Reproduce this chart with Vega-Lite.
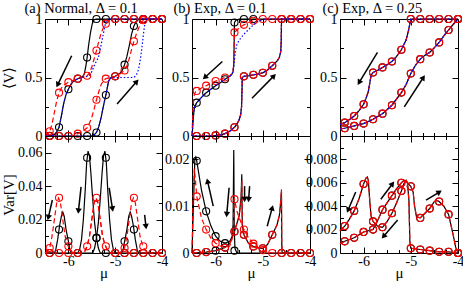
{
"$schema":"https://vega.github.io/schema/vega-lite/v6.json",
"padding":0,
"background":"white",
"config":{
 "axis":{"domain":false,"grid":false,"labelFont":"Liberation Serif","labelFontSize":14,"labelColor":"black","titleFont":"Liberation Serif","titleFontSize":15,"titleFontWeight":"normal","titleColor":"black","tickColor":"black","tickWidth":1,"labelFlush":false,"labelOverlap":false,"labelBound":false},
 "view":{"stroke":"black","strokeWidth":1}
},
"datasets":{
"a1":[
{"t":"l","s":"k","b":"d","m":-6.5,"v":0},{"t":"l","s":"k","b":"d","m":-6.35,"v":0.003},{"t":"l","s":"k","b":"d","m":-6.3,"v":0.012},{"t":"l","s":"k","b":"d","m":-6.25,"v":0.035},{"t":"l","s":"k","b":"d","m":-6.2,"v":0.075},{"t":"l","s":"k","b":"d","m":-6.15,"v":0.17},{"t":"l","s":"k","b":"d","m":-6.1,"v":0.28},{"t":"l","s":"k","b":"d","m":-6.05,"v":0.355},{"t":"l","s":"k","b":"d","m":-6.0,"v":0.4},{"t":"l","s":"k","b":"d","m":-5.95,"v":0.44},{"t":"l","s":"k","b":"d","m":-5.9,"v":0.465},{"t":"l","s":"k","b":"d","m":-5.8,"v":0.49},{"t":"l","s":"k","b":"d","m":-5.7,"v":0.505},{"t":"l","s":"k","b":"d","m":-5.66,"v":0.53},{"t":"l","s":"k","b":"d","m":-5.63,"v":0.59},{"t":"l","s":"k","b":"d","m":-5.6,"v":0.67},{"t":"l","s":"k","b":"d","m":-5.57,"v":0.77},{"t":"l","s":"k","b":"d","m":-5.53,"v":0.88},{"t":"l","s":"k","b":"d","m":-5.49,"v":0.96},{"t":"l","s":"k","b":"d","m":-5.45,"v":0.995},{"t":"l","s":"k","b":"d","m":-5.4,"v":1},{"t":"l","s":"k","b":"d","m":-4,"v":1},
{"t":"l","s":"k","b":"u","m":-6.5,"v":0},{"t":"l","s":"k","b":"u","m":-5.5,"v":0},{"t":"l","s":"k","b":"u","m":-5.45,"v":0.01},{"t":"l","s":"k","b":"u","m":-5.4,"v":0.03},{"t":"l","s":"k","b":"u","m":-5.35,"v":0.08},{"t":"l","s":"k","b":"u","m":-5.3,"v":0.16},{"t":"l","s":"k","b":"u","m":-5.25,"v":0.26},{"t":"l","s":"k","b":"u","m":-5.2,"v":0.35},{"t":"l","s":"k","b":"u","m":-5.17,"v":0.41},{"t":"l","s":"k","b":"u","m":-5.14,"v":0.47},{"t":"l","s":"k","b":"u","m":-5.1,"v":0.495},{"t":"l","s":"k","b":"u","m":-5.0,"v":0.51},{"t":"l","s":"k","b":"u","m":-4.9,"v":0.535},{"t":"l","s":"k","b":"u","m":-4.85,"v":0.56},{"t":"l","s":"k","b":"u","m":-4.8,"v":0.61},{"t":"l","s":"k","b":"u","m":-4.75,"v":0.68},{"t":"l","s":"k","b":"u","m":-4.7,"v":0.77},{"t":"l","s":"k","b":"u","m":-4.65,"v":0.87},{"t":"l","s":"k","b":"u","m":-4.6,"v":0.94},{"t":"l","s":"k","b":"u","m":-4.55,"v":0.98},{"t":"l","s":"k","b":"u","m":-4.5,"v":0.995},{"t":"l","s":"k","b":"u","m":-4.45,"v":1},{"t":"l","s":"k","b":"u","m":-4,"v":1},
{"t":"l","s":"r","b":"d","m":-6.5,"v":0},{"t":"l","s":"r","b":"d","m":-6.45,"v":0.01},{"t":"l","s":"r","b":"d","m":-6.4,"v":0.04},{"t":"l","s":"r","b":"d","m":-6.35,"v":0.1},{"t":"l","s":"r","b":"d","m":-6.3,"v":0.2},{"t":"l","s":"r","b":"d","m":-6.25,"v":0.3},{"t":"l","s":"r","b":"d","m":-6.2,"v":0.37},{"t":"l","s":"r","b":"d","m":-6.15,"v":0.41},{"t":"l","s":"r","b":"d","m":-6.1,"v":0.435},{"t":"l","s":"r","b":"d","m":-6.0,"v":0.46},{"t":"l","s":"r","b":"d","m":-5.9,"v":0.475},{"t":"l","s":"r","b":"d","m":-5.8,"v":0.49},{"t":"l","s":"r","b":"d","m":-5.7,"v":0.5},{"t":"l","s":"r","b":"d","m":-5.6,"v":0.515},{"t":"l","s":"r","b":"d","m":-5.55,"v":0.54},{"t":"l","s":"r","b":"d","m":-5.5,"v":0.59},{"t":"l","s":"r","b":"d","m":-5.45,"v":0.66},{"t":"l","s":"r","b":"d","m":-5.4,"v":0.73},{"t":"l","s":"r","b":"d","m":-5.35,"v":0.81},{"t":"l","s":"r","b":"d","m":-5.3,"v":0.88},{"t":"l","s":"r","b":"d","m":-5.25,"v":0.93},{"t":"l","s":"r","b":"d","m":-5.2,"v":0.96},{"t":"l","s":"r","b":"d","m":-5.1,"v":0.99},{"t":"l","s":"r","b":"d","m":-5.0,"v":1},{"t":"l","s":"r","b":"d","m":-4,"v":1},
{"t":"l","s":"r","b":"u","m":-6.5,"v":0},{"t":"l","s":"r","b":"u","m":-5.9,"v":0},{"t":"l","s":"r","b":"u","m":-5.8,"v":0.02},{"t":"l","s":"r","b":"u","m":-5.7,"v":0.04},{"t":"l","s":"r","b":"u","m":-5.6,"v":0.07},{"t":"l","s":"r","b":"u","m":-5.55,"v":0.11},{"t":"l","s":"r","b":"u","m":-5.5,"v":0.16},{"t":"l","s":"r","b":"u","m":-5.45,"v":0.23},{"t":"l","s":"r","b":"u","m":-5.4,"v":0.31},{"t":"l","s":"r","b":"u","m":-5.35,"v":0.38},{"t":"l","s":"r","b":"u","m":-5.3,"v":0.44},{"t":"l","s":"r","b":"u","m":-5.25,"v":0.475},{"t":"l","s":"r","b":"u","m":-5.2,"v":0.49},{"t":"l","s":"r","b":"u","m":-5.1,"v":0.5},{"t":"l","s":"r","b":"u","m":-5.0,"v":0.51},{"t":"l","s":"r","b":"u","m":-4.9,"v":0.53},{"t":"l","s":"r","b":"u","m":-4.8,"v":0.56},{"t":"l","s":"r","b":"u","m":-4.75,"v":0.6},{"t":"l","s":"r","b":"u","m":-4.7,"v":0.66},{"t":"l","s":"r","b":"u","m":-4.65,"v":0.74},{"t":"l","s":"r","b":"u","m":-4.6,"v":0.81},{"t":"l","s":"r","b":"u","m":-4.55,"v":0.87},{"t":"l","s":"r","b":"u","m":-4.5,"v":0.92},{"t":"l","s":"r","b":"u","m":-4.45,"v":0.97},{"t":"l","s":"r","b":"u","m":-4.4,"v":0.99},{"t":"l","s":"r","b":"u","m":-4.3,"v":1},{"t":"l","s":"r","b":"u","m":-4,"v":1},
{"t":"l","s":"b","b":"d","m":-6.5,"v":0},{"t":"l","s":"b","b":"d","m":-6.35,"v":0.003},{"t":"l","s":"b","b":"d","m":-6.3,"v":0.012},{"t":"l","s":"b","b":"d","m":-6.25,"v":0.035},{"t":"l","s":"b","b":"d","m":-6.2,"v":0.075},{"t":"l","s":"b","b":"d","m":-6.15,"v":0.17},{"t":"l","s":"b","b":"d","m":-6.1,"v":0.28},{"t":"l","s":"b","b":"d","m":-6.05,"v":0.355},{"t":"l","s":"b","b":"d","m":-6.0,"v":0.4},{"t":"l","s":"b","b":"d","m":-5.95,"v":0.44},{"t":"l","s":"b","b":"d","m":-5.9,"v":0.465},{"t":"l","s":"b","b":"d","m":-5.8,"v":0.49},{"t":"l","s":"b","b":"d","m":-5.7,"v":0.5},{"t":"l","s":"b","b":"d","m":-5.6,"v":0.51},{"t":"l","s":"b","b":"d","m":-5.55,"v":0.52},{"t":"l","s":"b","b":"d","m":-5.5,"v":0.55},{"t":"l","s":"b","b":"d","m":-5.45,"v":0.6},{"t":"l","s":"b","b":"d","m":-5.4,"v":0.64},{"t":"l","s":"b","b":"d","m":-5.36,"v":0.67},{"t":"l","s":"b","b":"d","m":-5.32,"v":0.74},{"t":"l","s":"b","b":"d","m":-5.29,"v":0.8},{"t":"l","s":"b","b":"d","m":-5.25,"v":0.88},{"t":"l","s":"b","b":"d","m":-5.21,"v":0.96},{"t":"l","s":"b","b":"d","m":-5.18,"v":0.995},{"t":"l","s":"b","b":"d","m":-5.15,"v":1},{"t":"l","s":"b","b":"d","m":-4,"v":1},
{"t":"l","s":"b","b":"u","m":-6.5,"v":0},{"t":"l","s":"b","b":"u","m":-5.5,"v":0},{"t":"l","s":"b","b":"u","m":-5.45,"v":0.01},{"t":"l","s":"b","b":"u","m":-5.4,"v":0.03},{"t":"l","s":"b","b":"u","m":-5.35,"v":0.08},{"t":"l","s":"b","b":"u","m":-5.3,"v":0.16},{"t":"l","s":"b","b":"u","m":-5.25,"v":0.26},{"t":"l","s":"b","b":"u","m":-5.2,"v":0.35},{"t":"l","s":"b","b":"u","m":-5.17,"v":0.41},{"t":"l","s":"b","b":"u","m":-5.14,"v":0.47},{"t":"l","s":"b","b":"u","m":-5.1,"v":0.495},{"t":"l","s":"b","b":"u","m":-5.0,"v":0.5},{"t":"l","s":"b","b":"u","m":-4.8,"v":0.5},{"t":"l","s":"b","b":"u","m":-4.6,"v":0.5},{"t":"l","s":"b","b":"u","m":-4.55,"v":0.52},{"t":"l","s":"b","b":"u","m":-4.5,"v":0.57},{"t":"l","s":"b","b":"u","m":-4.46,"v":0.66},{"t":"l","s":"b","b":"u","m":-4.43,"v":0.75},{"t":"l","s":"b","b":"u","m":-4.4,"v":0.86},{"t":"l","s":"b","b":"u","m":-4.37,"v":0.95},{"t":"l","s":"b","b":"u","m":-4.34,"v":0.995},{"t":"l","s":"b","b":"u","m":-4.3,"v":1},{"t":"l","s":"b","b":"u","m":-4,"v":1},
{"t":"c","s":"k","b":"d","m":-6.4,"v":0.002},{"t":"c","s":"k","b":"d","m":-6.2,"v":0.075},{"t":"c","s":"k","b":"d","m":-6.0,"v":0.4},{"t":"c","s":"k","b":"d","m":-5.8,"v":0.49},{"t":"c","s":"k","b":"d","m":-5.6,"v":0.67},{"t":"c","s":"k","b":"d","m":-5.4,"v":1},{"t":"c","s":"k","b":"d","m":-5.2,"v":1},{"t":"c","s":"k","b":"d","m":-5.0,"v":1},{"t":"c","s":"k","b":"d","m":-4.8,"v":1},{"t":"c","s":"k","b":"d","m":-4.6,"v":1},{"t":"c","s":"k","b":"d","m":-4.4,"v":1},{"t":"c","s":"k","b":"d","m":-4.2,"v":1},{"t":"c","s":"k","b":"d","m":-4.0,"v":1},
{"t":"c","s":"k","b":"u","m":-6.4,"v":0},{"t":"c","s":"k","b":"u","m":-6.2,"v":0},{"t":"c","s":"k","b":"u","m":-6.0,"v":0},{"t":"c","s":"k","b":"u","m":-5.8,"v":0},{"t":"c","s":"k","b":"u","m":-5.6,"v":0},{"t":"c","s":"k","b":"u","m":-5.4,"v":0.03},{"t":"c","s":"k","b":"u","m":-5.2,"v":0.35},{"t":"c","s":"k","b":"u","m":-5.0,"v":0.51},{"t":"c","s":"k","b":"u","m":-4.8,"v":0.61},{"t":"c","s":"k","b":"u","m":-4.6,"v":0.94},{"t":"c","s":"k","b":"u","m":-4.4,"v":1},{"t":"c","s":"k","b":"u","m":-4.2,"v":1},{"t":"c","s":"k","b":"u","m":-4.0,"v":1},
{"t":"c","s":"r","b":"d","m":-6.4,"v":0.04},{"t":"c","s":"r","b":"d","m":-6.2,"v":0.37},{"t":"c","s":"r","b":"d","m":-6.0,"v":0.46},{"t":"c","s":"r","b":"d","m":-5.8,"v":0.49},{"t":"c","s":"r","b":"d","m":-5.6,"v":0.515},{"t":"c","s":"r","b":"d","m":-5.4,"v":0.73},{"t":"c","s":"r","b":"d","m":-5.2,"v":0.96},{"t":"c","s":"r","b":"d","m":-5.0,"v":1},{"t":"c","s":"r","b":"d","m":-4.8,"v":1},{"t":"c","s":"r","b":"d","m":-4.6,"v":1},{"t":"c","s":"r","b":"d","m":-4.4,"v":1},{"t":"c","s":"r","b":"d","m":-4.2,"v":1},{"t":"c","s":"r","b":"d","m":-4.0,"v":1},
{"t":"c","s":"r","b":"u","m":-6.4,"v":0},{"t":"c","s":"r","b":"u","m":-6.2,"v":0},{"t":"c","s":"r","b":"u","m":-6.0,"v":0},{"t":"c","s":"r","b":"u","m":-5.8,"v":0.02},{"t":"c","s":"r","b":"u","m":-5.6,"v":0.07},{"t":"c","s":"r","b":"u","m":-5.4,"v":0.31},{"t":"c","s":"r","b":"u","m":-5.2,"v":0.49},{"t":"c","s":"r","b":"u","m":-5.0,"v":0.51},{"t":"c","s":"r","b":"u","m":-4.8,"v":0.56},{"t":"c","s":"r","b":"u","m":-4.6,"v":0.81},{"t":"c","s":"r","b":"u","m":-4.4,"v":0.99},{"t":"c","s":"r","b":"u","m":-4.2,"v":1},{"t":"c","s":"r","b":"u","m":-4.0,"v":1},
{"t":"a","m":-5.93,"v":0.686,"m2":-6.23,"v2":0.437,"dir":206},{"t":"a","m":-4.96,"v":0.274,"m2":-4.54,"v2":0.466,"dir":42}
],
"a2":[
{"t":"l","s":"k","b":"d","m":-6.5,"v":0},{"t":"l","s":"k","b":"d","m":-6.3,"v":0},{"t":"l","s":"k","b":"d","m":-6.27,"v":0.002},{"t":"l","s":"k","b":"d","m":-6.23,"v":0.008},{"t":"l","s":"k","b":"d","m":-6.19,"v":0.016},{"t":"l","s":"k","b":"d","m":-6.15,"v":0.022},{"t":"l","s":"k","b":"d","m":-6.12,"v":0.0245},{"t":"l","s":"k","b":"d","m":-6.09,"v":0.022},{"t":"l","s":"k","b":"d","m":-6.05,"v":0.014},{"t":"l","s":"k","b":"d","m":-6.0,"v":0.007},{"t":"l","s":"k","b":"d","m":-5.97,"v":0.002},{"t":"l","s":"k","b":"d","m":-5.94,"v":0},{"t":"l","s":"k","b":"d","m":-5.8,"v":0},{"t":"l","s":"k","b":"d","m":-5.76,"v":0.002},{"t":"l","s":"k","b":"d","m":-5.72,"v":0.008},{"t":"l","s":"k","b":"d","m":-5.68,"v":0.02},{"t":"l","s":"k","b":"d","m":-5.64,"v":0.038},{"t":"l","s":"k","b":"d","m":-5.61,"v":0.054},{"t":"l","s":"k","b":"d","m":-5.58,"v":0.061},{"t":"l","s":"k","b":"d","m":-5.55,"v":0.058},{"t":"l","s":"k","b":"d","m":-5.52,"v":0.048},{"t":"l","s":"k","b":"d","m":-5.48,"v":0.032},{"t":"l","s":"k","b":"d","m":-5.44,"v":0.018},{"t":"l","s":"k","b":"d","m":-5.4,"v":0.009},{"t":"l","s":"k","b":"d","m":-5.36,"v":0.003},{"t":"l","s":"k","b":"d","m":-5.32,"v":0},{"t":"l","s":"k","b":"d","m":-4,"v":0},
{"t":"l","s":"k","b":"u","m":-6.5,"v":0},{"t":"l","s":"k","b":"u","m":-5.48,"v":0},{"t":"l","s":"k","b":"u","m":-5.44,"v":0.003},{"t":"l","s":"k","b":"u","m":-5.4,"v":0.009},{"t":"l","s":"k","b":"u","m":-5.36,"v":0.018},{"t":"l","s":"k","b":"u","m":-5.32,"v":0.032},{"t":"l","s":"k","b":"u","m":-5.28,"v":0.048},{"t":"l","s":"k","b":"u","m":-5.25,"v":0.058},{"t":"l","s":"k","b":"u","m":-5.22,"v":0.061},{"t":"l","s":"k","b":"u","m":-5.19,"v":0.054},{"t":"l","s":"k","b":"u","m":-5.16,"v":0.038},{"t":"l","s":"k","b":"u","m":-5.12,"v":0.02},{"t":"l","s":"k","b":"u","m":-5.08,"v":0.008},{"t":"l","s":"k","b":"u","m":-5.04,"v":0.002},{"t":"l","s":"k","b":"u","m":-5.0,"v":0},{"t":"l","s":"k","b":"u","m":-4.86,"v":0},{"t":"l","s":"k","b":"u","m":-4.83,"v":0.002},{"t":"l","s":"k","b":"u","m":-4.8,"v":0.007},{"t":"l","s":"k","b":"u","m":-4.75,"v":0.014},{"t":"l","s":"k","b":"u","m":-4.71,"v":0.022},{"t":"l","s":"k","b":"u","m":-4.68,"v":0.0245},{"t":"l","s":"k","b":"u","m":-4.65,"v":0.022},{"t":"l","s":"k","b":"u","m":-4.61,"v":0.016},{"t":"l","s":"k","b":"u","m":-4.57,"v":0.008},{"t":"l","s":"k","b":"u","m":-4.53,"v":0.002},{"t":"l","s":"k","b":"u","m":-4.5,"v":0},{"t":"l","s":"k","b":"u","m":-4,"v":0},
{"t":"l","s":"r","b":"d","m":-6.5,"v":0},{"t":"l","s":"r","b":"d","m":-6.45,"v":0.001},{"t":"l","s":"r","b":"d","m":-6.4,"v":0.003},{"t":"l","s":"r","b":"d","m":-6.35,"v":0.01},{"t":"l","s":"r","b":"d","m":-6.3,"v":0.02},{"t":"l","s":"r","b":"d","m":-6.25,"v":0.03},{"t":"l","s":"r","b":"d","m":-6.21,"v":0.033},{"t":"l","s":"r","b":"d","m":-6.17,"v":0.03},{"t":"l","s":"r","b":"d","m":-6.12,"v":0.02},{"t":"l","s":"r","b":"d","m":-6.07,"v":0.01},{"t":"l","s":"r","b":"d","m":-6.02,"v":0.005},{"t":"l","s":"r","b":"d","m":-5.97,"v":0.002},{"t":"l","s":"r","b":"d","m":-5.9,"v":0},{"t":"l","s":"r","b":"d","m":-5.7,"v":0},{"t":"l","s":"r","b":"d","m":-5.65,"v":0.001},{"t":"l","s":"r","b":"d","m":-5.6,"v":0.004},{"t":"l","s":"r","b":"d","m":-5.55,"v":0.01},{"t":"l","s":"r","b":"d","m":-5.5,"v":0.02},{"t":"l","s":"r","b":"d","m":-5.45,"v":0.03},{"t":"l","s":"r","b":"d","m":-5.41,"v":0.033},{"t":"l","s":"r","b":"d","m":-5.37,"v":0.03},{"t":"l","s":"r","b":"d","m":-5.32,"v":0.02},{"t":"l","s":"r","b":"d","m":-5.27,"v":0.01},{"t":"l","s":"r","b":"d","m":-5.22,"v":0.005},{"t":"l","s":"r","b":"d","m":-5.17,"v":0.002},{"t":"l","s":"r","b":"d","m":-5.1,"v":0},{"t":"l","s":"r","b":"d","m":-4,"v":0},
{"t":"l","s":"r","b":"u","m":-6.5,"v":0},{"t":"l","s":"r","b":"u","m":-5.7,"v":0},{"t":"l","s":"r","b":"u","m":-5.65,"v":0.001},{"t":"l","s":"r","b":"u","m":-5.6,"v":0.004},{"t":"l","s":"r","b":"u","m":-5.55,"v":0.01},{"t":"l","s":"r","b":"u","m":-5.5,"v":0.02},{"t":"l","s":"r","b":"u","m":-5.45,"v":0.03},{"t":"l","s":"r","b":"u","m":-5.41,"v":0.033},{"t":"l","s":"r","b":"u","m":-5.37,"v":0.03},{"t":"l","s":"r","b":"u","m":-5.32,"v":0.02},{"t":"l","s":"r","b":"u","m":-5.27,"v":0.01},{"t":"l","s":"r","b":"u","m":-5.22,"v":0.005},{"t":"l","s":"r","b":"u","m":-5.17,"v":0.002},{"t":"l","s":"r","b":"u","m":-5.1,"v":0},{"t":"l","s":"r","b":"u","m":-4.9,"v":0},{"t":"l","s":"r","b":"u","m":-4.85,"v":0.001},{"t":"l","s":"r","b":"u","m":-4.8,"v":0.003},{"t":"l","s":"r","b":"u","m":-4.75,"v":0.01},{"t":"l","s":"r","b":"u","m":-4.7,"v":0.02},{"t":"l","s":"r","b":"u","m":-4.65,"v":0.03},{"t":"l","s":"r","b":"u","m":-4.61,"v":0.033},{"t":"l","s":"r","b":"u","m":-4.57,"v":0.03},{"t":"l","s":"r","b":"u","m":-4.52,"v":0.02},{"t":"l","s":"r","b":"u","m":-4.47,"v":0.01},{"t":"l","s":"r","b":"u","m":-4.42,"v":0.005},{"t":"l","s":"r","b":"u","m":-4.37,"v":0.002},{"t":"l","s":"r","b":"u","m":-4.3,"v":0},{"t":"l","s":"r","b":"u","m":-4,"v":0},
{"t":"c","s":"k","b":"d","m":-6.4,"v":0},{"t":"c","s":"k","b":"d","m":-6.2,"v":0.014},{"t":"c","s":"k","b":"d","m":-6.0,"v":0.007},{"t":"c","s":"k","b":"d","m":-5.8,"v":0},{"t":"c","s":"k","b":"d","m":-5.6,"v":0.057},{"t":"c","s":"k","b":"d","m":-5.4,"v":0.009},{"t":"c","s":"k","b":"d","m":-5.2,"v":0},{"t":"c","s":"k","b":"d","m":-5.0,"v":0},{"t":"c","s":"k","b":"d","m":-4.8,"v":0},{"t":"c","s":"k","b":"d","m":-4.6,"v":0},{"t":"c","s":"k","b":"d","m":-4.4,"v":0},{"t":"c","s":"k","b":"d","m":-4.2,"v":0},{"t":"c","s":"k","b":"d","m":-4.0,"v":0},
{"t":"c","s":"k","b":"u","m":-5.4,"v":0.009},{"t":"c","s":"k","b":"u","m":-5.2,"v":0.057},{"t":"c","s":"k","b":"u","m":-4.8,"v":0.007},{"t":"c","s":"k","b":"u","m":-4.6,"v":0.014},
{"t":"c","s":"r","b":"d","m":-6.4,"v":0.003},{"t":"c","s":"r","b":"d","m":-6.2,"v":0.033},{"t":"c","s":"r","b":"d","m":-6.0,"v":0.004},{"t":"c","s":"r","b":"d","m":-5.8,"v":0},{"t":"c","s":"r","b":"d","m":-5.6,"v":0.004},{"t":"c","s":"r","b":"d","m":-5.4,"v":0.033},{"t":"c","s":"r","b":"d","m":-5.2,"v":0.004},{"t":"c","s":"r","b":"d","m":-5.0,"v":0},{"t":"c","s":"r","b":"d","m":-4.8,"v":0},{"t":"c","s":"r","b":"d","m":-4.6,"v":0},{"t":"c","s":"r","b":"d","m":-4.4,"v":0},{"t":"c","s":"r","b":"d","m":-4.2,"v":0},{"t":"c","s":"r","b":"d","m":-4.0,"v":0},
{"t":"c","s":"r","b":"u","m":-6.4,"v":0},{"t":"c","s":"r","b":"u","m":-6.2,"v":0},{"t":"c","s":"r","b":"u","m":-6.0,"v":0},{"t":"c","s":"r","b":"u","m":-4.8,"v":0.003},{"t":"c","s":"r","b":"u","m":-4.6,"v":0.033},{"t":"c","s":"r","b":"u","m":-4.4,"v":0.004},
{"t":"a","m":-6.343,"v":0.0317,"m2":-6.429,"v2":0.0212,"dir":193},{"t":"a","m":-5.729,"v":0.0396,"m2":-5.786,"v2":0.0251,"dir":186},{"t":"a","m":-5.129,"v":0.039,"m2":-5.057,"v2":0.0263,"dir":171},{"t":"a","m":-4.371,"v":0.0228,"m2":-4.343,"v2":0.0158,"dir":174}
],
"b1":[
{"t":"l","s":"k","b":"d","m":-6.5,"v":0},{"t":"l","s":"k","b":"d","m":-6.49,"v":0.05},{"t":"l","s":"k","b":"d","m":-6.47,"v":0.17},{"t":"l","s":"k","b":"d","m":-6.45,"v":0.24},{"t":"l","s":"k","b":"d","m":-6.42,"v":0.27},{"t":"l","s":"k","b":"d","m":-6.4,"v":0.285},{"t":"l","s":"k","b":"d","m":-6.3,"v":0.33},{"t":"l","s":"k","b":"d","m":-6.2,"v":0.37},{"t":"l","s":"k","b":"d","m":-6.1,"v":0.4},{"t":"l","s":"k","b":"d","m":-6.0,"v":0.43},{"t":"l","s":"k","b":"d","m":-5.9,"v":0.455},{"t":"l","s":"k","b":"d","m":-5.8,"v":0.485},{"t":"l","s":"k","b":"d","m":-5.7,"v":0.51},{"t":"l","s":"k","b":"d","m":-5.66,"v":0.525},{"t":"l","s":"k","b":"d","m":-5.63,"v":0.55},{"t":"l","s":"k","b":"d","m":-5.615,"v":0.6},{"t":"l","s":"k","b":"d","m":-5.605,"v":0.85},{"t":"l","s":"k","b":"d","m":-5.6,"v":0.97},{"t":"l","s":"k","b":"d","m":-5.57,"v":0.99},{"t":"l","s":"k","b":"d","m":-5.5,"v":1},{"t":"l","s":"k","b":"d","m":-4,"v":1},
{"t":"l","s":"r","b":"d","m":-6.5,"v":0},{"t":"l","s":"r","b":"d","m":-6.49,"v":0.12},{"t":"l","s":"r","b":"d","m":-6.47,"v":0.3},{"t":"l","s":"r","b":"d","m":-6.45,"v":0.36},{"t":"l","s":"r","b":"d","m":-6.42,"v":0.38},{"t":"l","s":"r","b":"d","m":-6.4,"v":0.385},{"t":"l","s":"r","b":"d","m":-6.3,"v":0.41},{"t":"l","s":"r","b":"d","m":-6.2,"v":0.43},{"t":"l","s":"r","b":"d","m":-6.1,"v":0.45},{"t":"l","s":"r","b":"d","m":-6.0,"v":0.47},{"t":"l","s":"r","b":"d","m":-5.9,"v":0.485},{"t":"l","s":"r","b":"d","m":-5.8,"v":0.5},{"t":"l","s":"r","b":"d","m":-5.7,"v":0.515},{"t":"l","s":"r","b":"d","m":-5.66,"v":0.53},{"t":"l","s":"r","b":"d","m":-5.63,"v":0.56},{"t":"l","s":"r","b":"d","m":-5.615,"v":0.62},{"t":"l","s":"r","b":"d","m":-5.605,"v":0.84},{"t":"l","s":"r","b":"d","m":-5.6,"v":0.885},{"t":"l","s":"r","b":"d","m":-5.5,"v":0.925},{"t":"l","s":"r","b":"d","m":-5.4,"v":0.95},{"t":"l","s":"r","b":"d","m":-5.3,"v":0.97},{"t":"l","s":"r","b":"d","m":-5.2,"v":0.985},{"t":"l","s":"r","b":"d","m":-5.1,"v":0.995},{"t":"l","s":"r","b":"d","m":-5.0,"v":1},{"t":"l","s":"r","b":"d","m":-4,"v":1},
{"t":"l","s":"b","b":"d","m":-6.5,"v":0},{"t":"l","s":"b","b":"d","m":-6.49,"v":0.05},{"t":"l","s":"b","b":"d","m":-6.47,"v":0.17},{"t":"l","s":"b","b":"d","m":-6.45,"v":0.24},{"t":"l","s":"b","b":"d","m":-6.42,"v":0.27},{"t":"l","s":"b","b":"d","m":-6.4,"v":0.285},{"t":"l","s":"b","b":"d","m":-6.3,"v":0.33},{"t":"l","s":"b","b":"d","m":-6.2,"v":0.37},{"t":"l","s":"b","b":"d","m":-6.1,"v":0.4},{"t":"l","s":"b","b":"d","m":-6.0,"v":0.43},{"t":"l","s":"b","b":"d","m":-5.9,"v":0.455},{"t":"l","s":"b","b":"d","m":-5.8,"v":0.485},{"t":"l","s":"b","b":"d","m":-5.7,"v":0.51},{"t":"l","s":"b","b":"d","m":-5.66,"v":0.525},{"t":"l","s":"b","b":"d","m":-5.63,"v":0.55},{"t":"l","s":"b","b":"d","m":-5.61,"v":0.62},{"t":"l","s":"b","b":"d","m":-5.58,"v":0.72},{"t":"l","s":"b","b":"d","m":-5.55,"v":0.78},{"t":"l","s":"b","b":"d","m":-5.5,"v":0.82},{"t":"l","s":"b","b":"d","m":-5.4,"v":0.87},{"t":"l","s":"b","b":"d","m":-5.3,"v":0.91},{"t":"l","s":"b","b":"d","m":-5.2,"v":0.95},{"t":"l","s":"b","b":"d","m":-5.1,"v":0.98},{"t":"l","s":"b","b":"d","m":-5.0,"v":0.995},{"t":"l","s":"b","b":"d","m":-4.95,"v":1},{"t":"l","s":"b","b":"d","m":-4,"v":1},
{"t":"l","s":"k","b":"u","m":-6.5,"v":0},{"t":"l","s":"k","b":"u","m":-6.1,"v":0.002},{"t":"l","s":"k","b":"u","m":-6.0,"v":0.005},{"t":"l","s":"k","b":"u","m":-5.9,"v":0.01},{"t":"l","s":"k","b":"u","m":-5.8,"v":0.02},{"t":"l","s":"k","b":"u","m":-5.7,"v":0.04},{"t":"l","s":"k","b":"u","m":-5.6,"v":0.075},{"t":"l","s":"k","b":"u","m":-5.55,"v":0.1},{"t":"l","s":"k","b":"u","m":-5.5,"v":0.14},{"t":"l","s":"k","b":"u","m":-5.47,"v":0.18},{"t":"l","s":"k","b":"u","m":-5.45,"v":0.25},{"t":"l","s":"k","b":"u","m":-5.44,"v":0.4},{"t":"l","s":"k","b":"u","m":-5.435,"v":0.5},{"t":"l","s":"k","b":"u","m":-5.4,"v":0.51},{"t":"l","s":"k","b":"u","m":-5.3,"v":0.515},{"t":"l","s":"k","b":"u","m":-5.2,"v":0.523},{"t":"l","s":"k","b":"u","m":-5.1,"v":0.53},{"t":"l","s":"k","b":"u","m":-5.0,"v":0.54},{"t":"l","s":"k","b":"u","m":-4.9,"v":0.565},{"t":"l","s":"k","b":"u","m":-4.8,"v":0.6},{"t":"l","s":"k","b":"u","m":-4.7,"v":0.64},{"t":"l","s":"k","b":"u","m":-4.65,"v":0.67},{"t":"l","s":"k","b":"u","m":-4.62,"v":0.72},{"t":"l","s":"k","b":"u","m":-4.61,"v":0.8},{"t":"l","s":"k","b":"u","m":-4.605,"v":0.95},{"t":"l","s":"k","b":"u","m":-4.6,"v":1},{"t":"l","s":"k","b":"u","m":-4,"v":1},
{"t":"c","s":"k","b":"d","m":-6.4,"v":0.285},{"t":"c","s":"k","b":"d","m":-6.2,"v":0.37},{"t":"c","s":"k","b":"d","m":-6.0,"v":0.43},{"t":"c","s":"k","b":"d","m":-5.8,"v":0.485},{"t":"c","s":"k","b":"d","m":-5.6,"v":0.97},{"t":"c","s":"k","b":"d","m":-5.4,"v":1},{"t":"c","s":"k","b":"d","m":-5.2,"v":1},
{"t":"c","s":"r","b":"d","m":-6.4,"v":0.385},{"t":"c","s":"r","b":"d","m":-6.2,"v":0.43},{"t":"c","s":"r","b":"d","m":-6.0,"v":0.47},{"t":"c","s":"r","b":"d","m":-5.8,"v":0.5},{"t":"c","s":"r","b":"d","m":-5.6,"v":0.885},{"t":"c","s":"r","b":"d","m":-5.4,"v":0.95},{"t":"c","s":"r","b":"d","m":-5.2,"v":0.985},{"t":"c","s":"r","b":"d","m":-5.0,"v":1},{"t":"c","s":"r","b":"d","m":-4.8,"v":1},{"t":"c","s":"r","b":"d","m":-4.6,"v":1},{"t":"c","s":"r","b":"d","m":-4.4,"v":1},{"t":"c","s":"r","b":"d","m":-4.2,"v":1},{"t":"c","s":"r","b":"d","m":-4.0,"v":1},
{"t":"c","s":"k","b":"u","m":-6.4,"v":0},{"t":"c","s":"k","b":"u","m":-6.2,"v":0},{"t":"c","s":"k","b":"u","m":-6.0,"v":0.005},{"t":"c","s":"k","b":"u","m":-5.8,"v":0.02},{"t":"c","s":"k","b":"u","m":-5.6,"v":0.075},{"t":"c","s":"k","b":"u","m":-5.4,"v":0.51},{"t":"c","s":"k","b":"u","m":-5.2,"v":0.523},{"t":"c","s":"k","b":"u","m":-5.0,"v":0.54},{"t":"c","s":"k","b":"u","m":-4.8,"v":0.6},{"t":"c","s":"k","b":"u","m":-4.6,"v":1},{"t":"c","s":"k","b":"u","m":-4.4,"v":1},{"t":"c","s":"k","b":"u","m":-4.2,"v":1},{"t":"c","s":"k","b":"u","m":-4.0,"v":1},
{"t":"a","m":-5.857,"v":0.637,"m2":-6.229,"v2":0.5,"dir":227},{"t":"a","m":-5.229,"v":0.323,"m2":-4.764,"v2":0.514,"dir":44}
],
"b2":[
{"t":"l","s":"k","b":"d","m":-6.5,"v":0},{"t":"l","s":"k","b":"d","m":-6.47,"v":0.01},{"t":"l","s":"k","b":"d","m":-6.44,"v":0.02},{"t":"l","s":"k","b":"d","m":-6.42,"v":0.0205},{"t":"l","s":"k","b":"d","m":-6.4,"v":0.0197},{"t":"l","s":"k","b":"d","m":-6.3,"v":0.0135},{"t":"l","s":"k","b":"d","m":-6.2,"v":0.0089},{"t":"l","s":"k","b":"d","m":-6.1,"v":0.0058},{"t":"l","s":"k","b":"d","m":-6.0,"v":0.0036},{"t":"l","s":"k","b":"d","m":-5.9,"v":0.0025},{"t":"l","s":"k","b":"d","m":-5.8,"v":0.0021},{"t":"l","s":"k","b":"d","m":-5.7,"v":0.0025},{"t":"l","s":"k","b":"d","m":-5.65,"v":0.0035},{"t":"l","s":"k","b":"d","m":-5.63,"v":0.006},{"t":"l","s":"k","b":"d","m":-5.615,"v":0.022},{"t":"l","s":"k","b":"d","m":-5.605,"v":0.005},{"t":"l","s":"k","b":"d","m":-5.59,"v":0.001},{"t":"l","s":"k","b":"d","m":-5.55,"v":0},{"t":"l","s":"k","b":"d","m":-4,"v":0},
{"t":"l","s":"k","b":"u","m":-6.5,"v":0},{"t":"l","s":"k","b":"u","m":-6.2,"v":0.0002},{"t":"l","s":"k","b":"u","m":-6.0,"v":0.0005},{"t":"l","s":"k","b":"u","m":-5.8,"v":0.0012},{"t":"l","s":"k","b":"u","m":-5.7,"v":0.002},{"t":"l","s":"k","b":"u","m":-5.6,"v":0.0046},{"t":"l","s":"k","b":"u","m":-5.5,"v":0.008},{"t":"l","s":"k","b":"u","m":-5.46,"v":0.012},{"t":"l","s":"k","b":"u","m":-5.445,"v":0.0168},{"t":"l","s":"k","b":"u","m":-5.435,"v":0.006},{"t":"l","s":"k","b":"u","m":-5.4,"v":0.0039},{"t":"l","s":"k","b":"u","m":-5.3,"v":0.002},{"t":"l","s":"k","b":"u","m":-5.2,"v":0.0014},{"t":"l","s":"k","b":"u","m":-5.1,"v":0.0011},{"t":"l","s":"k","b":"u","m":-5.0,"v":0.001},{"t":"l","s":"k","b":"u","m":-4.9,"v":0.0018},{"t":"l","s":"k","b":"u","m":-4.8,"v":0.0039},{"t":"l","s":"k","b":"u","m":-4.7,"v":0.006},{"t":"l","s":"k","b":"u","m":-4.65,"v":0.008},{"t":"l","s":"k","b":"u","m":-4.62,"v":0.011},{"t":"l","s":"k","b":"u","m":-4.605,"v":0.0132},{"t":"l","s":"k","b":"u","m":-4.598,"v":0.002},{"t":"l","s":"k","b":"u","m":-4.59,"v":0},{"t":"l","s":"k","b":"u","m":-4,"v":0},
{"t":"l","s":"r","b":"d","m":-6.5,"v":0},{"t":"l","s":"r","b":"d","m":-6.48,"v":0.01},{"t":"l","s":"r","b":"d","m":-6.45,"v":0.018},{"t":"l","s":"r","b":"d","m":-6.43,"v":0.016},{"t":"l","s":"r","b":"d","m":-6.4,"v":0.0121},{"t":"l","s":"r","b":"d","m":-6.3,"v":0.0075},{"t":"l","s":"r","b":"d","m":-6.2,"v":0.005},{"t":"l","s":"r","b":"d","m":-6.1,"v":0.0032},{"t":"l","s":"r","b":"d","m":-6.0,"v":0.0021},{"t":"l","s":"r","b":"d","m":-5.9,"v":0.0015},{"t":"l","s":"r","b":"d","m":-5.8,"v":0.0011},{"t":"l","s":"r","b":"d","m":-5.7,"v":0.0015},{"t":"l","s":"r","b":"d","m":-5.65,"v":0.003},{"t":"l","s":"r","b":"d","m":-5.62,"v":0.006},{"t":"l","s":"r","b":"d","m":-5.61,"v":0.0117},{"t":"l","s":"r","b":"d","m":-5.6,"v":0.0115},{"t":"l","s":"r","b":"d","m":-5.55,"v":0.009},{"t":"l","s":"r","b":"d","m":-5.5,"v":0.0075},{"t":"l","s":"r","b":"d","m":-5.4,"v":0.005},{"t":"l","s":"r","b":"d","m":-5.3,"v":0.0032},{"t":"l","s":"r","b":"d","m":-5.2,"v":0.002},{"t":"l","s":"r","b":"d","m":-5.1,"v":0.0012},{"t":"l","s":"r","b":"d","m":-5.0,"v":0.0006},{"t":"l","s":"r","b":"d","m":-4.9,"v":0.0002},{"t":"l","s":"r","b":"d","m":-4.8,"v":0},{"t":"l","s":"r","b":"d","m":-4,"v":0},
{"t":"l","s":"r","b":"u","m":-6.5,"v":0},{"t":"l","s":"r","b":"u","m":-6.2,"v":0.0002},{"t":"l","s":"r","b":"u","m":-6.0,"v":0.0005},{"t":"l","s":"r","b":"u","m":-5.8,"v":0.0012},{"t":"l","s":"r","b":"u","m":-5.7,"v":0.002},{"t":"l","s":"r","b":"u","m":-5.6,"v":0.0046},{"t":"l","s":"r","b":"u","m":-5.5,"v":0.008},{"t":"l","s":"r","b":"u","m":-5.46,"v":0.011},{"t":"l","s":"r","b":"u","m":-5.445,"v":0.0155},{"t":"l","s":"r","b":"u","m":-5.435,"v":0.006},{"t":"l","s":"r","b":"u","m":-5.4,"v":0.0039},{"t":"l","s":"r","b":"u","m":-5.3,"v":0.002},{"t":"l","s":"r","b":"u","m":-5.2,"v":0.0014},{"t":"l","s":"r","b":"u","m":-5.1,"v":0.0011},{"t":"l","s":"r","b":"u","m":-5.0,"v":0.001},{"t":"l","s":"r","b":"u","m":-4.9,"v":0.0018},{"t":"l","s":"r","b":"u","m":-4.8,"v":0.0039},{"t":"l","s":"r","b":"u","m":-4.7,"v":0.006},{"t":"l","s":"r","b":"u","m":-4.65,"v":0.008},{"t":"l","s":"r","b":"u","m":-4.62,"v":0.011},{"t":"l","s":"r","b":"u","m":-4.605,"v":0.0136},{"t":"l","s":"r","b":"u","m":-4.598,"v":0.002},{"t":"l","s":"r","b":"u","m":-4.59,"v":0},{"t":"l","s":"r","b":"u","m":-4,"v":0},
{"t":"c","s":"k","b":"d","m":-6.4,"v":0.0197},{"t":"c","s":"k","b":"d","m":-6.2,"v":0.0089},{"t":"c","s":"k","b":"d","m":-6.0,"v":0.0036},{"t":"c","s":"k","b":"d","m":-5.8,"v":0.0021},{"t":"c","s":"k","b":"d","m":-5.6,"v":0.0005},
{"t":"c","s":"k","b":"u","m":-6.4,"v":0},{"t":"c","s":"k","b":"u","m":-6.2,"v":0.0002},{"t":"c","s":"k","b":"u","m":-6.0,"v":0.0005},{"t":"c","s":"k","b":"u","m":-5.8,"v":0.0012},{"t":"c","s":"k","b":"u","m":-5.6,"v":0.0046},{"t":"c","s":"k","b":"u","m":-5.4,"v":0.0039},{"t":"c","s":"k","b":"u","m":-5.2,"v":0.0014},{"t":"c","s":"k","b":"u","m":-5.0,"v":0.001},{"t":"c","s":"k","b":"u","m":-4.8,"v":0.0039},{"t":"c","s":"k","b":"u","m":-4.6,"v":0},{"t":"c","s":"k","b":"u","m":-4.4,"v":0},{"t":"c","s":"k","b":"u","m":-4.2,"v":0},{"t":"c","s":"k","b":"u","m":-4.0,"v":0},
{"t":"c","s":"r","b":"d","m":-6.4,"v":0.0121},{"t":"c","s":"r","b":"d","m":-6.2,"v":0.005},{"t":"c","s":"r","b":"d","m":-6.0,"v":0.0021},{"t":"c","s":"r","b":"d","m":-5.8,"v":0.0011},{"t":"c","s":"r","b":"d","m":-5.6,"v":0.0115},{"t":"c","s":"r","b":"d","m":-5.4,"v":0.005},{"t":"c","s":"r","b":"d","m":-5.2,"v":0.002},{"t":"c","s":"r","b":"d","m":-5.0,"v":0.0006},{"t":"c","s":"r","b":"d","m":-4.8,"v":0},{"t":"c","s":"r","b":"d","m":-4.6,"v":0},{"t":"c","s":"r","b":"d","m":-4.4,"v":0},{"t":"c","s":"r","b":"d","m":-4.2,"v":0},{"t":"c","s":"r","b":"d","m":-4.0,"v":0},
{"t":"c","s":"r","b":"u","m":-6.4,"v":0},{"t":"c","s":"r","b":"u","m":-6.2,"v":0.0002},{"t":"c","s":"r","b":"u","m":-5.6,"v":0.0046},{"t":"c","s":"r","b":"u","m":-5.4,"v":0.0039},{"t":"c","s":"r","b":"u","m":-5.2,"v":0.0014},{"t":"c","s":"r","b":"u","m":-5.0,"v":0.001},{"t":"c","s":"r","b":"u","m":-4.8,"v":0.0039},
{"t":"a","m":-6.05,"v":0.01,"m2":-6.171,"v2":0.01536,"dir":347},{"t":"a","m":-5.714,"v":0.01393,"m2":-5.764,"v2":0.00821,"dir":185},{"t":"a","m":-5.386,"v":0.01429,"m2":-5.386,"v2":0.01143,"dir":180},{"t":"a","m":-5.279,"v":0.01429,"m2":-5.3,"v2":0.01143,"dir":184},{"t":"a","m":-4.907,"v":0.00571,"m2":-4.8,"v2":0.00964,"dir":15}
],
"c1":[
{"t":"l","s":"k","b":"d","m":-6.5,"v":0.1},{"t":"l","s":"k","b":"d","m":-6.4,"v":0.114},{"t":"l","s":"k","b":"d","m":-6.3,"v":0.14},{"t":"l","s":"k","b":"d","m":-6.2,"v":0.171},{"t":"l","s":"k","b":"d","m":-6.1,"v":0.215},{"t":"l","s":"k","b":"d","m":-6.0,"v":0.271},{"t":"l","s":"k","b":"d","m":-5.95,"v":0.32},{"t":"l","s":"k","b":"d","m":-5.9,"v":0.38},{"t":"l","s":"k","b":"d","m":-5.87,"v":0.45},{"t":"l","s":"k","b":"d","m":-5.84,"v":0.52},{"t":"l","s":"k","b":"d","m":-5.8,"v":0.543},{"t":"l","s":"k","b":"d","m":-5.7,"v":0.562},{"t":"l","s":"k","b":"d","m":-5.6,"v":0.586},{"t":"l","s":"k","b":"d","m":-5.5,"v":0.61},{"t":"l","s":"k","b":"d","m":-5.4,"v":0.637},{"t":"l","s":"k","b":"d","m":-5.3,"v":0.68},{"t":"l","s":"k","b":"d","m":-5.2,"v":0.737},{"t":"l","s":"k","b":"d","m":-5.1,"v":0.82},{"t":"l","s":"k","b":"d","m":-5.05,"v":0.9},{"t":"l","s":"k","b":"d","m":-5.01,"v":0.98},{"t":"l","s":"k","b":"d","m":-5.0,"v":1},{"t":"l","s":"k","b":"d","m":-4,"v":1},
{"t":"l","s":"k","b":"u","m":-6.5,"v":0.06},{"t":"l","s":"k","b":"u","m":-6.4,"v":0.066},{"t":"l","s":"k","b":"u","m":-6.2,"v":0.086},{"t":"l","s":"k","b":"u","m":-6.0,"v":0.106},{"t":"l","s":"k","b":"u","m":-5.8,"v":0.143},{"t":"l","s":"k","b":"u","m":-5.6,"v":0.191},{"t":"l","s":"k","b":"u","m":-5.4,"v":0.263},{"t":"l","s":"k","b":"u","m":-5.2,"v":0.371},{"t":"l","s":"k","b":"u","m":-5.1,"v":0.44},{"t":"l","s":"k","b":"u","m":-5.0,"v":0.534},{"t":"l","s":"k","b":"u","m":-4.9,"v":0.605},{"t":"l","s":"k","b":"u","m":-4.8,"v":0.657},{"t":"l","s":"k","b":"u","m":-4.7,"v":0.69},{"t":"l","s":"k","b":"u","m":-4.6,"v":0.714},{"t":"l","s":"k","b":"u","m":-4.5,"v":0.755},{"t":"l","s":"k","b":"u","m":-4.4,"v":0.8},{"t":"l","s":"k","b":"u","m":-4.3,"v":0.855},{"t":"l","s":"k","b":"u","m":-4.2,"v":0.906},{"t":"l","s":"k","b":"u","m":-4.1,"v":0.955},{"t":"l","s":"k","b":"u","m":-4.0,"v":1},
{"t":"c","s":"k","b":"d","m":-6.4,"v":0.114},{"t":"c","s":"k","b":"d","m":-6.2,"v":0.171},{"t":"c","s":"k","b":"d","m":-6.0,"v":0.271},{"t":"c","s":"k","b":"d","m":-5.8,"v":0.543},{"t":"c","s":"k","b":"d","m":-5.6,"v":0.586},{"t":"c","s":"k","b":"d","m":-5.4,"v":0.637},{"t":"c","s":"k","b":"d","m":-5.2,"v":0.737},{"t":"c","s":"k","b":"d","m":-5.0,"v":1},{"t":"c","s":"k","b":"d","m":-4.8,"v":1},{"t":"c","s":"k","b":"d","m":-4.6,"v":1},{"t":"c","s":"k","b":"d","m":-4.4,"v":1},{"t":"c","s":"k","b":"d","m":-4.2,"v":1},{"t":"c","s":"k","b":"d","m":-4.0,"v":1},
{"t":"c","s":"k","b":"u","m":-6.4,"v":0.066},{"t":"c","s":"k","b":"u","m":-6.2,"v":0.086},{"t":"c","s":"k","b":"u","m":-6.0,"v":0.106},{"t":"c","s":"k","b":"u","m":-5.8,"v":0.143},{"t":"c","s":"k","b":"u","m":-5.6,"v":0.191},{"t":"c","s":"k","b":"u","m":-5.4,"v":0.263},{"t":"c","s":"k","b":"u","m":-5.2,"v":0.371},{"t":"c","s":"k","b":"u","m":-5.0,"v":0.534},{"t":"c","s":"k","b":"u","m":-4.8,"v":0.657},{"t":"c","s":"k","b":"u","m":-4.6,"v":0.714},{"t":"c","s":"k","b":"u","m":-4.4,"v":0.8},{"t":"c","s":"k","b":"u","m":-4.2,"v":0.906},{"t":"c","s":"k","b":"u","m":-4.0,"v":1},
{"t":"a","m":-5.706,"v":0.714,"m2":-6.096,"v2":0.457,"dir":211},{"t":"a","m":-5.138,"v":0.249,"m2":-4.734,"v2":0.5,"dir":33}
],
"c2":[
{"t":"l","s":"k","b":"d","m":-6.5,"v":0.0019},{"t":"l","s":"k","b":"d","m":-6.4,"v":0.0023},{"t":"l","s":"k","b":"d","m":-6.3,"v":0.0029},{"t":"l","s":"k","b":"d","m":-6.2,"v":0.0036},{"t":"l","s":"k","b":"d","m":-6.1,"v":0.0046},{"t":"l","s":"k","b":"d","m":-6.0,"v":0.0059},{"t":"l","s":"k","b":"d","m":-5.95,"v":0.0064},{"t":"l","s":"k","b":"d","m":-5.92,"v":0.0065},{"t":"l","s":"k","b":"d","m":-5.9,"v":0.0062},{"t":"l","s":"k","b":"d","m":-5.87,"v":0.0045},{"t":"l","s":"k","b":"d","m":-5.84,"v":0.0031},{"t":"l","s":"k","b":"d","m":-5.8,"v":0.0027},{"t":"l","s":"k","b":"d","m":-5.7,"v":0.0023},{"t":"l","s":"k","b":"d","m":-5.6,"v":0.0022},{"t":"l","s":"k","b":"d","m":-5.5,"v":0.0027},{"t":"l","s":"k","b":"d","m":-5.4,"v":0.0034},{"t":"l","s":"k","b":"d","m":-5.3,"v":0.0043},{"t":"l","s":"k","b":"d","m":-5.2,"v":0.0053},{"t":"l","s":"k","b":"d","m":-5.15,"v":0.0059},{"t":"l","s":"k","b":"d","m":-5.1,"v":0.0062},{"t":"l","s":"k","b":"d","m":-5.07,"v":0.006},{"t":"l","s":"k","b":"d","m":-5.04,"v":0.0045},{"t":"l","s":"k","b":"d","m":-5.02,"v":0.001},{"t":"l","s":"k","b":"d","m":-5.0,"v":0.0004},{"t":"l","s":"k","b":"d","m":-4.8,"v":0.0003},{"t":"l","s":"k","b":"d","m":-4.6,"v":0.0002},{"t":"l","s":"k","b":"d","m":-4.4,"v":0.0001},{"t":"l","s":"k","b":"d","m":-4.2,"v":0.0001},{"t":"l","s":"k","b":"d","m":-4.0,"v":0},
{"t":"l","s":"k","b":"u","m":-6.5,"v":0.0008},{"t":"l","s":"k","b":"u","m":-6.4,"v":0.001},{"t":"l","s":"k","b":"u","m":-6.2,"v":0.0013},{"t":"l","s":"k","b":"u","m":-6.0,"v":0.0018},{"t":"l","s":"k","b":"u","m":-5.8,"v":0.002},{"t":"l","s":"k","b":"u","m":-5.7,"v":0.0028},{"t":"l","s":"k","b":"u","m":-5.6,"v":0.0037},{"t":"l","s":"k","b":"u","m":-5.5,"v":0.0043},{"t":"l","s":"k","b":"u","m":-5.4,"v":0.0049},{"t":"l","s":"k","b":"u","m":-5.3,"v":0.0055},{"t":"l","s":"k","b":"u","m":-5.2,"v":0.006},{"t":"l","s":"k","b":"u","m":-5.15,"v":0.0062},{"t":"l","s":"k","b":"u","m":-5.1,"v":0.0061},{"t":"l","s":"k","b":"u","m":-5.0,"v":0.0057},{"t":"l","s":"k","b":"u","m":-4.95,"v":0.0052},{"t":"l","s":"k","b":"u","m":-4.92,"v":0.004},{"t":"l","s":"k","b":"u","m":-4.88,"v":0.0031},{"t":"l","s":"k","b":"u","m":-4.8,"v":0.003},{"t":"l","s":"k","b":"u","m":-4.7,"v":0.0034},{"t":"l","s":"k","b":"u","m":-4.6,"v":0.0038},{"t":"l","s":"k","b":"u","m":-4.5,"v":0.0044},{"t":"l","s":"k","b":"u","m":-4.45,"v":0.0045},{"t":"l","s":"k","b":"u","m":-4.4,"v":0.0044},{"t":"l","s":"k","b":"u","m":-4.3,"v":0.004},{"t":"l","s":"k","b":"u","m":-4.2,"v":0.0033},{"t":"l","s":"k","b":"u","m":-4.1,"v":0.0015},{"t":"l","s":"k","b":"u","m":-4.05,"v":0.0005},{"t":"l","s":"k","b":"u","m":-4.0,"v":0},
{"t":"c","s":"k","b":"d","m":-6.4,"v":0.0023},{"t":"c","s":"k","b":"d","m":-6.2,"v":0.0036},{"t":"c","s":"k","b":"d","m":-6.0,"v":0.0059},{"t":"c","s":"k","b":"d","m":-5.8,"v":0.0027},{"t":"c","s":"k","b":"d","m":-5.6,"v":0.0022},{"t":"c","s":"k","b":"d","m":-5.4,"v":0.0034},{"t":"c","s":"k","b":"d","m":-5.2,"v":0.0053},{"t":"c","s":"k","b":"d","m":-5.0,"v":0.0004},{"t":"c","s":"k","b":"d","m":-4.8,"v":0.0003},{"t":"c","s":"k","b":"d","m":-4.6,"v":0.0002},{"t":"c","s":"k","b":"d","m":-4.4,"v":0.0001},{"t":"c","s":"k","b":"d","m":-4.2,"v":0.0001},{"t":"c","s":"k","b":"d","m":-4.0,"v":0},
{"t":"c","s":"k","b":"u","m":-6.4,"v":0.001},{"t":"c","s":"k","b":"u","m":-6.2,"v":0.0013},{"t":"c","s":"k","b":"u","m":-6.0,"v":0.0018},{"t":"c","s":"k","b":"u","m":-5.8,"v":0.002},{"t":"c","s":"k","b":"u","m":-5.6,"v":0.0037},{"t":"c","s":"k","b":"u","m":-5.4,"v":0.0049},{"t":"c","s":"k","b":"u","m":-5.2,"v":0.006},{"t":"c","s":"k","b":"u","m":-5.0,"v":0.0057},{"t":"c","s":"k","b":"u","m":-4.8,"v":0.003},{"t":"c","s":"k","b":"u","m":-4.6,"v":0.0038},{"t":"c","s":"k","b":"u","m":-4.4,"v":0.0044},{"t":"c","s":"k","b":"u","m":-4.2,"v":0.0033},{"t":"c","s":"k","b":"u","m":-4.0,"v":0},
{"t":"a","m":-6.167,"v":0.00521,"m2":-6.33,"v2":0.00366,"dir":203},{"t":"a","m":-5.635,"v":0.00459,"m2":-5.387,"v2":0.00592,"dir":37},{"t":"a","m":-5.28,"v":0.00282,"m2":-5.578,"v2":0.00141,"dir":220},{"t":"a","m":-4.677,"v":0.00451,"m2":-4.394,"v2":0.00521,"dir":58}
]
},
"bounds":"flush",
"columns":3,
"spacing":{"row":0,"column":30},
"concat":[
 {"width":117,"height":117,"data":{"name":"a1"},
  "resolve":{"axis":{"x":"independent","y":"independent"}},
  "encoding":{"x":{"field":"m","type":"quantitative","scale":{"domain":[-6.5,-4],"nice":false,"zero":false},"axis":null},"y":{"field":"v","type":"quantitative","scale":{"domain":[0,1],"nice":false,"zero":false},"axis":null}},
  "layer":[
   {"mark":{"type":"point","opacity":0},"encoding":{"x":{"field":"m","type":"quantitative","axis":{"orient":"bottom","values":[-6,-5,-4],"tickSize":-6,"labels":false,"title":null}},"y":{"field":"v","type":"quantitative","axis":{"orient":"left","values":[0,0.5,1],"tickSize":-6,"labelPadding":9,"format":"~g","title":"⟨V⟩","titleX":-29,"titleY":58.5}}}},
   {"mark":{"type":"point","opacity":0},"encoding":{"x":{"field":"m","type":"quantitative","axis":{"orient":"bottom","values":[-6.25,-5.75,-5.5,-5.25,-4.75,-4.5,-4.25],"tickSize":-3.5,"labels":false,"title":null}},"y":{"field":"v","type":"quantitative","axis":{"orient":"left","values":[0.25,0.75],"tickSize":-3.5,"labels":false,"title":null}}}},
   {"mark":{"type":"point","opacity":0},"encoding":{"x":{"field":"m","type":"quantitative","axis":{"orient":"top","values":[-6,-5],"tickSize":-6,"labels":false,"title":"(a) Normal, Δ = 0.1","titleX":-21,"titleY":-6.5,"titleAlign":"left","titleBaseline":"alphabetic","titleAngle":0,"titleFontSize":14.5}},"y":{"field":"v","type":"quantitative","axis":{"orient":"right","values":[0.5],"tickSize":-6,"labels":false,"title":null}}}},
   {"mark":{"type":"point","opacity":0},"encoding":{"x":{"field":"m","type":"quantitative","axis":{"orient":"top","values":[-6.25,-5.75,-5.5,-5.25,-4.75,-4.5,-4.25],"tickSize":-3.5,"labels":false,"title":null}},"y":{"field":"v","type":"quantitative","axis":{"orient":"right","values":[0.25,0.75],"tickSize":-3.5,"labels":false,"title":null}}}},
   {"transform":[{"filter":"datum.t=='l'&&datum.s=='k'"}],"mark":{"type":"line","color":"black","strokeWidth":1.2},"encoding":{"detail":{"field":"b"}}},
   {"transform":[{"filter":"datum.t=='c'&&datum.s=='k'"}],"mark":{"type":"point","shape":"circle","filled":false,"color":"black","size":50,"strokeWidth":1.1,"opacity":1}},
   {"transform":[{"filter":"datum.t=='l'&&datum.s=='r'"}],"mark":{"type":"line","color":"#ff0000","strokeWidth":1.2,"strokeDash":[5,3]},"encoding":{"detail":{"field":"b"}}},
   {"transform":[{"filter":"datum.t=='c'&&datum.s=='r'"}],"mark":{"type":"point","shape":"circle","filled":false,"color":"#ff0000","size":50,"strokeWidth":1.1,"opacity":1}},
   {"transform":[{"filter":"datum.t=='l'&&datum.s=='b'"}],"mark":{"type":"line","color":"#0000ff","strokeWidth":1.2,"strokeDash":[1.5,2]},"encoding":{"detail":{"field":"b"}}},
   {"transform":[{"filter":"datum.t=='a'"}],"mark":{"type":"rule","color":"black","strokeWidth":1.5},"encoding":{"x2":{"field":"m2"},"y2":{"field":"v2"}}},
   {"transform":[{"filter":"datum.t=='a'"}],"mark":{"type":"point","shape":"triangle-up","filled":true,"color":"black","size":40,"opacity":1},"encoding":{"x":{"field":"m2","type":"quantitative","axis":null},"y":{"field":"v2","type":"quantitative","axis":null},"angle":{"field":"dir","type":"quantitative","scale":null}}}
  ]},
 {"width":118,"height":117,"data":{"name":"b1"},
  "resolve":{"axis":{"x":"independent","y":"independent"}},
  "encoding":{"x":{"field":"m","type":"quantitative","scale":{"domain":[-6.5,-4],"nice":false,"zero":false},"axis":null},"y":{"field":"v","type":"quantitative","scale":{"domain":[0,1],"nice":false,"zero":false},"axis":null}},
  "layer":[
   {"mark":{"type":"point","opacity":0},"encoding":{"x":{"field":"m","type":"quantitative","axis":{"orient":"bottom","values":[-6,-5,-4],"tickSize":-6,"labels":false,"title":null}},"y":{"field":"v","type":"quantitative","axis":{"orient":"left","values":[0,0.5,1],"tickSize":-6,"labelPadding":9,"format":"~g","title":null}}}},
   {"mark":{"type":"point","opacity":0},"encoding":{"x":{"field":"m","type":"quantitative","axis":{"orient":"bottom","values":[-6.25,-5.75,-5.5,-5.25,-4.75,-4.5,-4.25],"tickSize":-3.5,"labels":false,"title":null}},"y":{"field":"v","type":"quantitative","axis":{"orient":"left","values":[0.25,0.75],"tickSize":-3.5,"labels":false,"title":null}}}},
   {"mark":{"type":"point","opacity":0},"encoding":{"x":{"field":"m","type":"quantitative","axis":{"orient":"top","values":[-6,-5],"tickSize":-6,"labels":false,"title":"(b) Exp, Δ = 0.1","titleX":-19,"titleY":-6.5,"titleAlign":"left","titleBaseline":"alphabetic","titleAngle":0,"titleFontSize":14.5}},"y":{"field":"v","type":"quantitative","axis":{"orient":"right","values":[0.5],"tickSize":-6,"labels":false,"title":null}}}},
   {"mark":{"type":"point","opacity":0},"encoding":{"x":{"field":"m","type":"quantitative","axis":{"orient":"top","values":[-6.25,-5.75,-5.5,-5.25,-4.75,-4.5,-4.25],"tickSize":-3.5,"labels":false,"title":null}},"y":{"field":"v","type":"quantitative","axis":{"orient":"right","values":[0.25,0.75],"tickSize":-3.5,"labels":false,"title":null}}}},
   {"transform":[{"filter":"datum.t=='l'&&datum.s=='k'"}],"mark":{"type":"line","color":"black","strokeWidth":1.2},"encoding":{"detail":{"field":"b"}}},
   {"transform":[{"filter":"datum.t=='c'&&datum.s=='k'"}],"mark":{"type":"point","shape":"circle","filled":false,"color":"black","size":50,"strokeWidth":1.1,"opacity":1}},
   {"transform":[{"filter":"datum.t=='l'&&(datum.s=='r'||(datum.s=='k'&&datum.b=='u'))"}],"mark":{"type":"line","color":"#ff0000","strokeWidth":1.2,"strokeDash":[5,3]},"encoding":{"detail":{"field":"b"}}},
   {"transform":[{"filter":"datum.t=='c'&&(datum.s=='r'||(datum.s=='k'&&datum.b=='u'))"}],"mark":{"type":"point","shape":"circle","filled":false,"color":"#ff0000","size":50,"strokeWidth":1.1,"opacity":1}},
   {"transform":[{"filter":"datum.t=='l'&&(datum.s=='b'||(datum.s=='k'&&datum.b=='u'))"}],"mark":{"type":"line","color":"#0000ff","strokeWidth":1.2,"strokeDash":[1.5,2]},"encoding":{"detail":{"field":"b"}}},
   {"transform":[{"filter":"datum.t=='a'"}],"mark":{"type":"rule","color":"black","strokeWidth":1.5},"encoding":{"x2":{"field":"m2"},"y2":{"field":"v2"}}},
   {"transform":[{"filter":"datum.t=='a'"}],"mark":{"type":"point","shape":"triangle-up","filled":true,"color":"black","size":40,"opacity":1},"encoding":{"x":{"field":"m2","type":"quantitative","axis":null},"y":{"field":"v2","type":"quantitative","axis":null},"angle":{"field":"dir","type":"quantitative","scale":null}}}
  ]},
 {"width":118,"height":117,"data":{"name":"c1"},
  "resolve":{"axis":{"x":"independent","y":"independent"}},
  "encoding":{"x":{"field":"m","type":"quantitative","scale":{"domain":[-6.5,-4],"nice":false,"zero":false},"axis":null},"y":{"field":"v","type":"quantitative","scale":{"domain":[0,1],"nice":false,"zero":false},"axis":null}},
  "layer":[
   {"mark":{"type":"point","opacity":0},"encoding":{"x":{"field":"m","type":"quantitative","axis":{"orient":"bottom","values":[-6,-5,-4],"tickSize":-6,"labels":false,"title":null}},"y":{"field":"v","type":"quantitative","axis":{"orient":"left","values":[0,0.5,1],"tickSize":-6,"labelPadding":9,"format":"~g","title":null}}}},
   {"mark":{"type":"point","opacity":0},"encoding":{"x":{"field":"m","type":"quantitative","axis":{"orient":"bottom","values":[-6.25,-5.75,-5.5,-5.25,-4.75,-4.5,-4.25],"tickSize":-3.5,"labels":false,"title":null}},"y":{"field":"v","type":"quantitative","axis":{"orient":"left","values":[0.25,0.75],"tickSize":-3.5,"labels":false,"title":null}}}},
   {"mark":{"type":"point","opacity":0},"encoding":{"x":{"field":"m","type":"quantitative","axis":{"orient":"top","values":[-6,-5],"tickSize":-6,"labels":false,"title":"(c) Exp, Δ = 0.25","titleX":-18,"titleY":-6.5,"titleAlign":"left","titleBaseline":"alphabetic","titleAngle":0,"titleFontSize":14.5}},"y":{"field":"v","type":"quantitative","axis":{"orient":"right","values":[0.5],"tickSize":-6,"labels":false,"title":null}}}},
   {"mark":{"type":"point","opacity":0},"encoding":{"x":{"field":"m","type":"quantitative","axis":{"orient":"top","values":[-6.25,-5.75,-5.5,-5.25,-4.75,-4.5,-4.25],"tickSize":-3.5,"labels":false,"title":null}},"y":{"field":"v","type":"quantitative","axis":{"orient":"right","values":[0.25,0.75],"tickSize":-3.5,"labels":false,"title":null}}}},
   {"transform":[{"filter":"datum.t=='l'&&datum.s=='k'"}],"mark":{"type":"line","color":"black","strokeWidth":1.2},"encoding":{"detail":{"field":"b"}}},
   {"transform":[{"filter":"datum.t=='c'&&datum.s=='k'"}],"mark":{"type":"point","shape":"circle","filled":false,"color":"black","size":50,"strokeWidth":1.1,"opacity":1}},
   {"transform":[{"filter":"datum.t=='l'&&datum.s=='k'"}],"mark":{"type":"line","color":"#ff0000","strokeWidth":1.2,"strokeDash":[5,3]},"encoding":{"detail":{"field":"b"}}},
   {"transform":[{"filter":"datum.t=='c'&&datum.s=='k'"}],"mark":{"type":"point","shape":"circle","filled":false,"color":"#ff0000","size":50,"strokeWidth":1.1,"opacity":1}},
   {"transform":[{"filter":"datum.t=='l'&&datum.s=='k'"}],"mark":{"type":"line","color":"#0000ff","strokeWidth":1.2,"strokeDash":[1.5,2]},"encoding":{"detail":{"field":"b"}}},
   {"transform":[{"filter":"datum.t=='a'"}],"mark":{"type":"rule","color":"black","strokeWidth":1.5},"encoding":{"x2":{"field":"m2"},"y2":{"field":"v2"}}},
   {"transform":[{"filter":"datum.t=='a'"}],"mark":{"type":"point","shape":"triangle-up","filled":true,"color":"black","size":40,"opacity":1},"encoding":{"x":{"field":"m2","type":"quantitative","axis":null},"y":{"field":"v2","type":"quantitative","axis":null},"angle":{"field":"dir","type":"quantitative","scale":null}}}
  ]},
 {"width":117,"height":117,"data":{"name":"a2"},
  "resolve":{"axis":{"x":"independent","y":"independent"}},
  "encoding":{"x":{"field":"m","type":"quantitative","scale":{"domain":[-6.5,-4],"nice":false,"zero":false},"axis":null},"y":{"field":"v","type":"quantitative","scale":{"domain":[0,0.07],"nice":false,"zero":false},"axis":null}},
  "layer":[
   {"mark":{"type":"point","opacity":0},"encoding":{"x":{"field":"m","type":"quantitative","axis":{"orient":"bottom","values":[-6,-5,-4],"tickSize":-6,"labelPadding":7,"labelExpr":"'-'+(-datum.value)","title":"μ","titleX":58.5,"titleY":24,"titleAlign":"center","titleBaseline":"alphabetic"}},"y":{"field":"v","type":"quantitative","axis":{"orient":"left","values":[0,0.02,0.04,0.06],"tickSize":-6,"labelPadding":9,"format":"~g","title":"Var[V]","titleX":-29,"titleY":58.5}}}},
   {"mark":{"type":"point","opacity":0},"encoding":{"x":{"field":"m","type":"quantitative","axis":{"orient":"bottom","values":[-6.25,-5.75,-5.5,-5.25,-4.75,-4.5,-4.25],"tickSize":-3.5,"labels":false,"title":null}},"y":{"field":"v","type":"quantitative","axis":{"orient":"left","values":[0.01,0.03,0.05],"tickSize":-3.5,"labels":false,"title":null}}}},
   {"mark":{"type":"point","opacity":0},"encoding":{"x":{"field":"m","type":"quantitative","axis":{"orient":"top","values":[-6,-5],"tickSize":-6,"labels":false,"title":null}},"y":{"field":"v","type":"quantitative","axis":{"orient":"right","values":[0.02,0.04,0.06],"tickSize":-6,"labels":false,"title":null}}}},
   {"mark":{"type":"point","opacity":0},"encoding":{"x":{"field":"m","type":"quantitative","axis":{"orient":"top","values":[-6.25,-5.75,-5.5,-5.25,-4.75,-4.5,-4.25],"tickSize":-3.5,"labels":false,"title":null}},"y":{"field":"v","type":"quantitative","axis":{"orient":"right","values":[0.01,0.03,0.05],"tickSize":-3.5,"labels":false,"title":null}}}},
   {"transform":[{"filter":"datum.t=='l'&&datum.s=='k'"}],"mark":{"type":"line","color":"black","strokeWidth":1.2},"encoding":{"detail":{"field":"b"}}},
   {"transform":[{"filter":"datum.t=='c'&&datum.s=='k'"}],"mark":{"type":"point","shape":"circle","filled":false,"color":"black","size":50,"strokeWidth":1.1,"opacity":1}},
   {"transform":[{"filter":"datum.t=='l'&&datum.s=='r'"}],"mark":{"type":"line","color":"#ff0000","strokeWidth":1.2,"strokeDash":[5,3]},"encoding":{"detail":{"field":"b"}}},
   {"transform":[{"filter":"datum.t=='c'&&datum.s=='r'"}],"mark":{"type":"point","shape":"circle","filled":false,"color":"#ff0000","size":50,"strokeWidth":1.1,"opacity":1}},
   {"transform":[{"filter":"datum.t=='a'"}],"mark":{"type":"rule","color":"black","strokeWidth":1.5},"encoding":{"x2":{"field":"m2"},"y2":{"field":"v2"}}},
   {"transform":[{"filter":"datum.t=='a'"}],"mark":{"type":"point","shape":"triangle-up","filled":true,"color":"black","size":40,"opacity":1},"encoding":{"x":{"field":"m2","type":"quantitative","axis":null},"y":{"field":"v2","type":"quantitative","axis":null},"angle":{"field":"dir","type":"quantitative","scale":null}}}
  ]},
 {"width":118,"height":117,"data":{"name":"b2"},
  "resolve":{"axis":{"x":"independent","y":"independent"}},
  "encoding":{"x":{"field":"m","type":"quantitative","scale":{"domain":[-6.5,-4],"nice":false,"zero":false},"axis":null},"y":{"field":"v","type":"quantitative","scale":{"domain":[0,0.025],"nice":false,"zero":false},"axis":null}},
  "layer":[
   {"mark":{"type":"point","opacity":0},"encoding":{"x":{"field":"m","type":"quantitative","axis":{"orient":"bottom","values":[-6,-5,-4],"tickSize":-6,"labelPadding":7,"labelExpr":"'-'+(-datum.value)","title":"μ","titleX":59,"titleY":24,"titleAlign":"center","titleBaseline":"alphabetic"}},"y":{"field":"v","type":"quantitative","axis":{"orient":"left","values":[0,0.01,0.02],"tickSize":-6,"labelPadding":9,"format":"~g","title":null}}}},
   {"mark":{"type":"point","opacity":0},"encoding":{"x":{"field":"m","type":"quantitative","axis":{"orient":"bottom","values":[-6.25,-5.75,-5.5,-5.25,-4.75,-4.5,-4.25],"tickSize":-3.5,"labels":false,"title":null}},"y":{"field":"v","type":"quantitative","axis":{"orient":"left","values":[0.005,0.015],"tickSize":-3.5,"labels":false,"title":null}}}},
   {"mark":{"type":"point","opacity":0},"encoding":{"x":{"field":"m","type":"quantitative","axis":{"orient":"top","values":[-6,-5],"tickSize":-6,"labels":false,"title":null}},"y":{"field":"v","type":"quantitative","axis":{"orient":"right","values":[0.01,0.02],"tickSize":-6,"labels":false,"title":null}}}},
   {"mark":{"type":"point","opacity":0},"encoding":{"x":{"field":"m","type":"quantitative","axis":{"orient":"top","values":[-6.25,-5.75,-5.5,-5.25,-4.75,-4.5,-4.25],"tickSize":-3.5,"labels":false,"title":null}},"y":{"field":"v","type":"quantitative","axis":{"orient":"right","values":[0.005,0.015],"tickSize":-3.5,"labels":false,"title":null}}}},
   {"transform":[{"filter":"datum.t=='l'&&datum.s=='k'"}],"mark":{"type":"line","color":"black","strokeWidth":1.2},"encoding":{"detail":{"field":"b"}}},
   {"transform":[{"filter":"datum.t=='c'&&datum.s=='k'"}],"mark":{"type":"point","shape":"circle","filled":false,"color":"black","size":50,"strokeWidth":1.1,"opacity":1}},
   {"transform":[{"filter":"datum.t=='l'&&datum.s=='r'"}],"mark":{"type":"line","color":"#ff0000","strokeWidth":1.2,"strokeDash":[5,3]},"encoding":{"detail":{"field":"b"}}},
   {"transform":[{"filter":"datum.t=='c'&&datum.s=='r'"}],"mark":{"type":"point","shape":"circle","filled":false,"color":"#ff0000","size":50,"strokeWidth":1.1,"opacity":1}},
   {"transform":[{"filter":"datum.t=='a'"}],"mark":{"type":"rule","color":"black","strokeWidth":1.5},"encoding":{"x2":{"field":"m2"},"y2":{"field":"v2"}}},
   {"transform":[{"filter":"datum.t=='a'"}],"mark":{"type":"point","shape":"triangle-up","filled":true,"color":"black","size":40,"opacity":1},"encoding":{"x":{"field":"m2","type":"quantitative","axis":null},"y":{"field":"v2","type":"quantitative","axis":null},"angle":{"field":"dir","type":"quantitative","scale":null}}}
  ]},
 {"width":118,"height":117,"data":{"name":"c2"},
  "resolve":{"axis":{"x":"independent","y":"independent"}},
  "encoding":{"x":{"field":"m","type":"quantitative","scale":{"domain":[-6.5,-4],"nice":false,"zero":false},"axis":null},"y":{"field":"v","type":"quantitative","scale":{"domain":[0,0.01],"nice":false,"zero":false},"axis":null}},
  "layer":[
   {"mark":{"type":"point","opacity":0},"encoding":{"x":{"field":"m","type":"quantitative","axis":{"orient":"bottom","values":[-6,-5,-4],"tickSize":-6,"labelPadding":7,"labelExpr":"'-'+(-datum.value)","title":"μ","titleX":59,"titleY":24,"titleAlign":"center","titleBaseline":"alphabetic"}},"y":{"field":"v","type":"quantitative","axis":{"orient":"left","values":[0,0.002,0.004,0.006,0.008],"tickSize":-6,"labelPadding":9,"format":"~g","title":null}}}},
   {"mark":{"type":"point","opacity":0},"encoding":{"x":{"field":"m","type":"quantitative","axis":{"orient":"bottom","values":[-6.25,-5.75,-5.5,-5.25,-4.75,-4.5,-4.25],"tickSize":-3.5,"labels":false,"title":null}},"y":{"field":"v","type":"quantitative","axis":{"orient":"left","values":[0.001,0.003,0.005,0.007,0.009],"tickSize":-3.5,"labels":false,"title":null}}}},
   {"mark":{"type":"point","opacity":0},"encoding":{"x":{"field":"m","type":"quantitative","axis":{"orient":"top","values":[-6,-5],"tickSize":-6,"labels":false,"title":null}},"y":{"field":"v","type":"quantitative","axis":{"orient":"right","values":[0.002,0.004,0.006,0.008],"tickSize":-6,"labels":false,"title":null}}}},
   {"mark":{"type":"point","opacity":0},"encoding":{"x":{"field":"m","type":"quantitative","axis":{"orient":"top","values":[-6.25,-5.75,-5.5,-5.25,-4.75,-4.5,-4.25],"tickSize":-3.5,"labels":false,"title":null}},"y":{"field":"v","type":"quantitative","axis":{"orient":"right","values":[0.001,0.003,0.005,0.007,0.009],"tickSize":-3.5,"labels":false,"title":null}}}},
   {"transform":[{"filter":"datum.t=='l'&&datum.s=='k'"}],"mark":{"type":"line","color":"black","strokeWidth":1.2},"encoding":{"detail":{"field":"b"}}},
   {"transform":[{"filter":"datum.t=='c'&&datum.s=='k'"}],"mark":{"type":"point","shape":"circle","filled":false,"color":"black","size":50,"strokeWidth":1.1,"opacity":1}},
   {"transform":[{"filter":"datum.t=='l'&&datum.s=='k'"}],"mark":{"type":"line","color":"#ff0000","strokeWidth":1.2,"strokeDash":[5,3]},"encoding":{"detail":{"field":"b"}}},
   {"transform":[{"filter":"datum.t=='c'&&datum.s=='k'"}],"mark":{"type":"point","shape":"circle","filled":false,"color":"#ff0000","size":50,"strokeWidth":1.1,"opacity":1}},
   {"transform":[{"filter":"datum.t=='a'"}],"mark":{"type":"rule","color":"black","strokeWidth":1.5},"encoding":{"x2":{"field":"m2"},"y2":{"field":"v2"}}},
   {"transform":[{"filter":"datum.t=='a'"}],"mark":{"type":"point","shape":"triangle-up","filled":true,"color":"black","size":40,"opacity":1},"encoding":{"x":{"field":"m2","type":"quantitative","axis":null},"y":{"field":"v2","type":"quantitative","axis":null},"angle":{"field":"dir","type":"quantitative","scale":null}}}
  ]}
]
}
